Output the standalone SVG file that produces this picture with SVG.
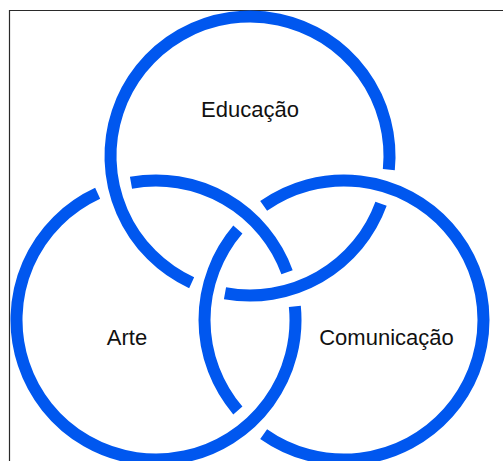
<svg xmlns="http://www.w3.org/2000/svg" width="503" height="461" viewBox="0 0 503 461">
<style>
.ring{fill:none;stroke:#0057ef;stroke-width:12;stroke-linecap:butt}
.lbl{font-family:"Liberation Sans",Arial,sans-serif;font-size:22px;fill:#111;text-anchor:middle}
</style>
<rect width="503" height="461" fill="#fff"/>
<path d="M9.5,461 V10.5 H503" fill="none" stroke="#2a2a2a" stroke-width="1.2"/>
<g id="educacao">
<path class="ring" d="M381.05,203.80 A139.5,139.5 0 0 1 224.99,293.24"/>
<path class="ring" d="M191.65,282.71 A139.5,139.5 0 1 1 388.83,169.71"/>
<text class="lbl" x="250" y="116.7">Educação</text>
</g>
<g id="arte">
<path class="ring" d="M130.99,182.76 A139.5,139.5 0 0 1 287.05,272.20"/>
<path class="ring" d="M294.83,306.29 A139.5,139.5 0 1 1 97.65,193.29"/>
<text class="lbl" x="127" y="345">Arte</text>
</g>
<g id="comunicacao">
<path class="ring" d="M263.65,205.96 A139.5,139.5 0 1 1 263.65,434.04"/>
<path class="ring" d="M237.85,410.51 A139.5,139.5 0 0 1 237.85,229.49"/>
<text class="lbl" x="386.5" y="345">Comunicação</text>
</g>
<g id="connectors"/>
</svg>
